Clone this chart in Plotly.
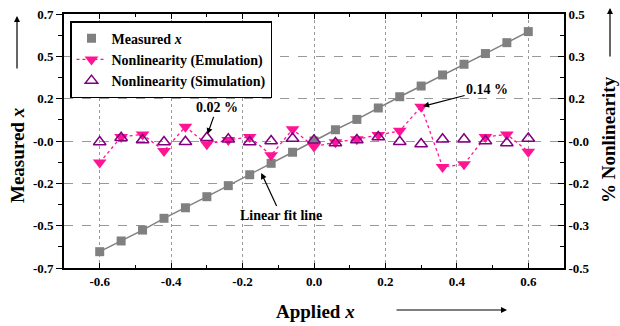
import plotly.graph_objects as go

applied = [-0.60, -0.54, -0.48, -0.42, -0.36, -0.30, -0.24, -0.18, -0.12, -0.06, 0.00,
           0.06, 0.12, 0.18, 0.24, 0.30, 0.36, 0.42, 0.48, 0.54, 0.60]
measured = [-0.610, -0.551, -0.491, -0.426, -0.368, -0.307, -0.246, -0.186, -0.123, -0.062, 0.000,
            0.062, 0.119, 0.182, 0.244, 0.303, 0.364, 0.423, 0.482, 0.542, 0.603]
nl_emulation = [-0.085, 0.016, 0.026, -0.039, 0.056, -0.013, 0.004, 0.016, -0.056, 0.046, -0.022,
                -0.005, 0.007, 0.024, 0.040, 0.135, -0.102, -0.092, 0.016, 0.026, -0.042]
nl_simulation = [-0.004, 0.013, 0.004, -0.004, -0.003, 0.013, 0.007, -0.004, 0.000, 0.010, 0.003,
                 -0.008, 0.004, 0.016, -0.003, -0.012, 0.007, 0.007, 0.000, -0.008, 0.010]

x_tickvals = [-0.6, -0.4, -0.2, 0.0, 0.2, 0.4, 0.6]
x_ticktext = ["-0.6", "-0.4", "-0.2", "0.0", "0.2", "0.4", "0.6"]
y_tickvals = [-0.7, -0.46667, -0.23333, 0.0, 0.23333, 0.46667, 0.7]
y_ticktext = ["-0.7", "-0.5", "-0.2", "-0.0", "0.2", "0.5", "0.7"]
y2_tickvals = [-0.5, -0.33333, -0.16667, 0.0, 0.16667, 0.33333, 0.5]
y2_ticktext = ["-0.5", "-0.3", "-0.2", "-0.0", "0.2", "0.3", "0.5"]

FONT = "Liberation Serif, Times New Roman, serif"
GREY = "#808080"
PINK = "#FF1493"
PURPLE = "#800080"

fig = go.Figure()
fig.add_trace(go.Scatter(x=applied, y=measured, mode="lines",
                         line=dict(color=GREY, width=1.5), showlegend=False, hoverinfo="skip"))
fig.add_trace(go.Scatter(x=applied, y=measured, mode="markers", name="Measured <i>x</i>",
                         marker=dict(symbol="square", size=9, color=GREY)))
fig.add_trace(go.Scatter(x=applied, y=nl_emulation, mode="lines+markers", yaxis="y2",
                         name="Nonlinearity (Emulation)",
                         line=dict(color=PINK, width=1.3, dash="dot"),
                         marker=dict(symbol="triangle-down", size=12, color=PINK)))
fig.add_trace(go.Scatter(x=applied, y=nl_simulation, mode="markers", yaxis="y2",
                         name="Nonlinearity (Simulation)",
                         marker=dict(symbol="triangle-up-open", size=11, color=PURPLE,
                                     line=dict(width=1.5, color=PURPLE))))

tickfont = dict(family=FONT, size=13, color="black", weight="bold")

fig.update_layout(
    width=620, height=326,
    margin=dict(l=64, r=56, t=14, b=58, autoexpand=False),
    paper_bgcolor="white", plot_bgcolor="white",
    font=dict(family=FONT, size=13, color="black", weight="bold"),
    showlegend=True,
    legend=dict(x=0.012, y=0.972, xanchor="left", yanchor="top",
                bgcolor="white", bordercolor="black", borderwidth=1.5,
                font=dict(family=FONT, size=14, color="black", weight="bold"),
                tracegroupgap=0, itemwidth=30),
    xaxis=dict(range=[-0.7, 0.7], tickmode="array", tickvals=x_tickvals, ticktext=x_ticktext,
               ticks="inside", ticklen=5, tickwidth=1.2, tickcolor="black",
               showline=True, linecolor="black", linewidth=1.8, mirror="ticks",
               showgrid=True, gridcolor="#999999", gridwidth=1, griddash="dot",
               zeroline=False, tickfont=tickfont, automargin=False,
               minor=dict(tickmode="array", tickvals=[-0.7, -0.5, -0.3, -0.1, 0.1, 0.3, 0.5, 0.7],
                          ticks="inside", ticklen=3, tickcolor="black", showgrid=False)),
    yaxis=dict(range=[-0.7, 0.7], tickmode="array", tickvals=y_tickvals, ticktext=y_ticktext,
               ticks="outside", ticklen=6, tickwidth=1.2, tickcolor="black",
               showline=True, linecolor="black", linewidth=1.8,
               showgrid=True, gridcolor="#999999", gridwidth=1, griddash="dash",
               zeroline=False, tickfont=tickfont, automargin=False,
               minor=dict(tickmode="array",
                          tickvals=[-0.58333, -0.35, -0.11667, 0.11667, 0.35, 0.58333],
                          ticks="outside", ticklen=4, tickcolor="black", showgrid=False)),
    yaxis2=dict(range=[-0.5, 0.5], overlaying="y", side="right",
                tickmode="array", tickvals=y2_tickvals, ticktext=y2_ticktext,
                ticks="inside", ticklen=6, tickwidth=1.2, tickcolor="black",
                showline=True, linecolor="black", linewidth=1.8,
                showgrid=False, zeroline=False, tickfont=tickfont, automargin=False,
                minor=dict(tickmode="array",
                           tickvals=[-0.41667, -0.25, -0.08333, 0.08333, 0.25, 0.41667],
                           ticks="inside", ticklen=4, tickcolor="black")),
)

ann_font = dict(family=FONT, size=14, color="black", weight="bold")
title_font = dict(family=FONT, size=19, color="black", weight="bold")

annotations = [
    # data callouts
    dict(x=-0.30, y=0.02, xref="x", yref="y2", text="0.02 %", showarrow=True,
         ax=10, ay=-28, arrowhead=2, arrowsize=1, arrowwidth=1.2, arrowcolor="black",
         font=ann_font, standoff=2),
    dict(x=0.30, y=0.135, xref="x", yref="y2", text="0.14 %", showarrow=True,
         ax=66, ay=-17, arrowhead=2, arrowsize=1, arrowwidth=1.2, arrowcolor="black",
         font=ann_font, standoff=2),
    dict(x=-0.149, y=-0.171, xref="x", yref="y", text="Linear fit line", showarrow=True,
         ax=20, ay=43, arrowhead=2, arrowsize=1, arrowwidth=1.2, arrowcolor="black",
         font=ann_font, standoff=1),
    # axis titles
    dict(x=-0.094, y=(268 - 155) / 254, xref="paper", yref="paper", text="Measured <i>x</i>",
         textangle=-90, showarrow=False, font=title_font, xanchor="center", yanchor="middle"),
    dict(x=(608 - 64) / 500, y=(268 - 140) / 254, xref="paper", yref="paper",
         text="% Nonlinearity", textangle=-90, showarrow=False, font=title_font,
         xanchor="center", yanchor="middle"),
    dict(x=(315 - 64) / 500, y=(268 - 311) / 254, xref="paper", yref="paper",
         text="Applied <i>x</i>", showarrow=False, font=title_font,
         xanchor="center", yanchor="middle"),
    # axis arrows
    dict(x=-0.094, y=(268 - 16) / 254, xref="paper", yref="paper", text="", showarrow=True,
         ax=0, ay=54, arrowhead=2, arrowsize=1, arrowwidth=1.2, arrowcolor="black"),
    dict(x=(610 - 64) / 500, y=(268 - 8) / 254, xref="paper", yref="paper", text="",
         showarrow=True, ax=0, ay=50, arrowhead=2, arrowsize=1, arrowwidth=1.2,
         arrowcolor="black"),
    dict(x=(507 - 64) / 500, y=(268 - 310) / 254, xref="paper", yref="paper", text="",
         showarrow=True, ax=-112, ay=0, arrowhead=2, arrowsize=1, arrowwidth=1.2,
         arrowcolor="black"),
]
fig.update_layout(annotations=annotations)

fig.write_html("out.html",
               config={"displayModeBar": False},
               post_script="document.body.style.margin='0';document.body.style.padding='0';")
